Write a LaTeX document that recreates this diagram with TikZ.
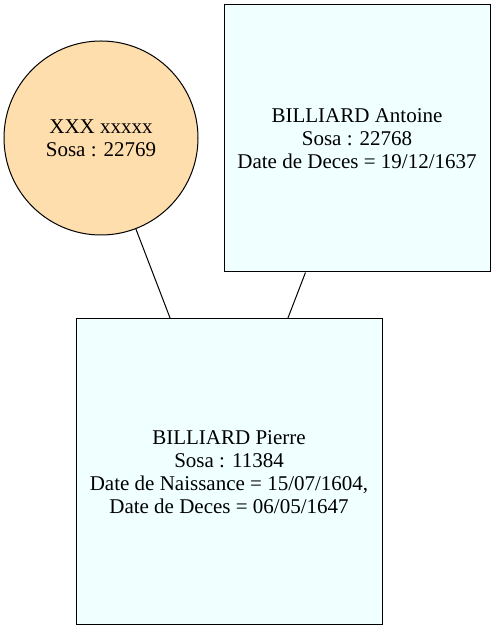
\documentclass[tikz,border=0pt]{standalone}
\usepackage{fontspec}
\setmainfont{Liberation Serif}
\definecolor{navajo}{HTML}{FFDEAD}
\definecolor{azurebox}{HTML}{F0FFFF}
\begin{document}
\begin{tikzpicture}[x=1pt,y=1pt,line width=1pt,
  person/.style={draw=black,align=center,inner sep=0pt,font=\fontsize{21}{23}\selectfont},
  man/.style={person,rectangle,fill=azurebox},
  woman/.style={person,circle,fill=navajo,minimum size=194pt}]
\useasboundingbox (0,0) rectangle (496,631);
\node[woman] (mother) at (101,493) {XXX xxxxx\\Sosa : 22769};
\node[man,minimum width=266pt,minimum height=267pt] (father) at (357,492.5)
  {BILLIARD Antoine\\Sosa : 22768\\Date de Deces = 19/12/1637};
\node[man,minimum size=306pt] (child) at (229,159)
  {BILLIARD Pierre\\Sosa : 11384\\Date de Naissance = 15/07/1604,\\Date de Deces = 06/05/1647};
\draw (mother) -- (child);
\draw (father) -- (child);
\end{tikzpicture}
\end{document}
